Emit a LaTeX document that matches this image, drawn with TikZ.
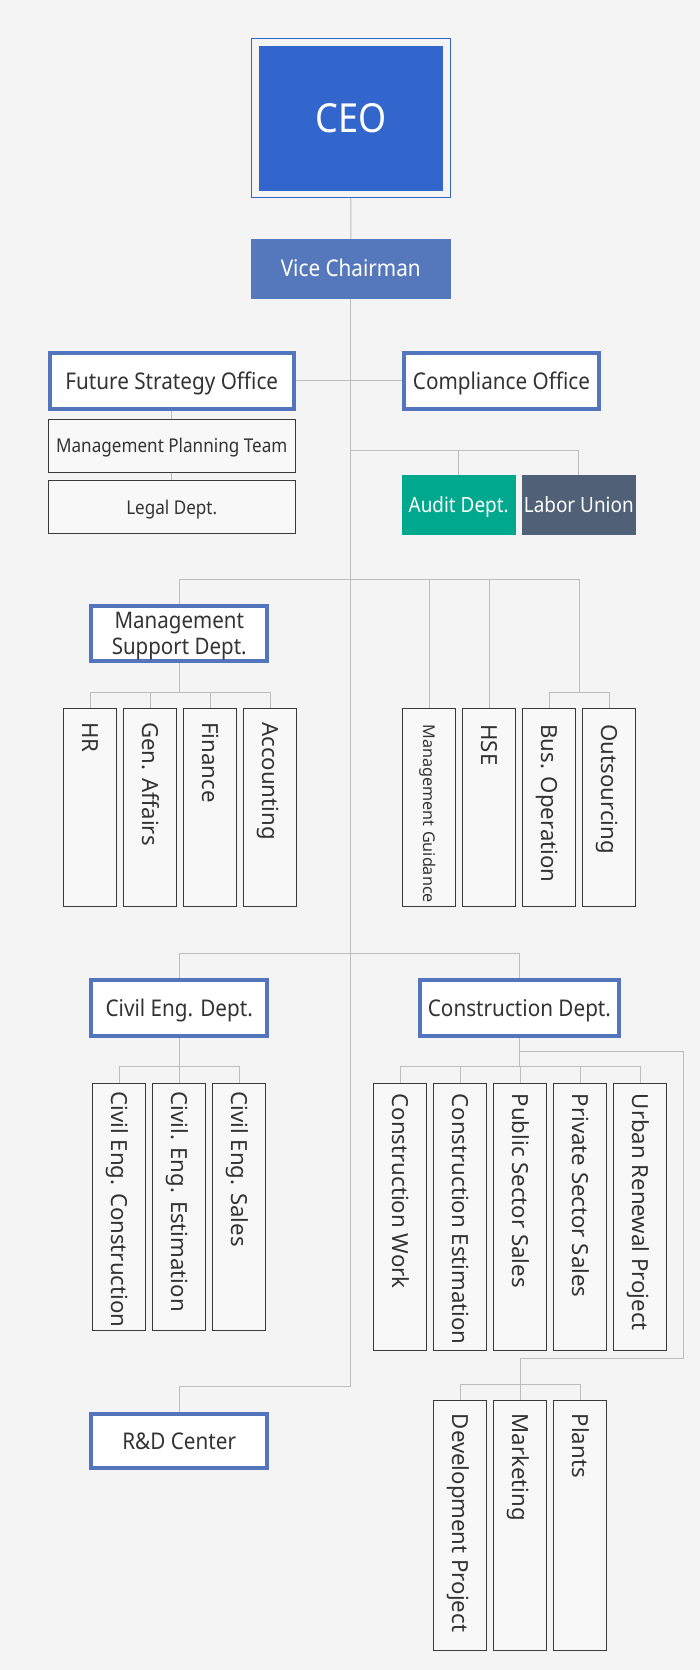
\documentclass[tikz,border=0pt]{standalone}
\usepackage{fontspec}
\setmainfont{Noto Sans}
\newfontfamily\hfont[FakeStretch=0.9]{Noto Sans}
\newfontfamily\vfont{Noto Sans}
\usetikzlibrary{backgrounds}
\definecolor{bgc}{HTML}{F4F4F4}
\definecolor{ceoblue}{HTML}{3366CC}
\definecolor{vcblue}{HTML}{5577BB}
\definecolor{hdrblue}{HTML}{5275BD}
\definecolor{auditc}{HTML}{00A88E}
\definecolor{laborc}{HTML}{4F6077}
\definecolor{linec}{HTML}{BDBDBD}
\definecolor{boxline}{HTML}{3A3A3A}
\definecolor{boxfill}{HTML}{F8F8F8}
\definecolor{txtc}{HTML}{333333}
\newcommand\fsz[1]{\fontsize{#1}{#1}\selectfont}
\begin{document}
\begin{tikzpicture}[x=1pt,y=-1pt,
  conn/.style={draw=linec,line width=1pt},
  hbox/.style={draw=hdrblue,line width=4pt,fill=white,inner sep=0pt,text=txtc,
    font=\hfont\fsz{23},text height=16.4pt,text depth=0pt},
  subbox/.style={draw=boxline,line width=1pt,fill=boxfill,inner sep=0pt,text=txtc,
    font=\hfont\fsz{19},text height=13.6pt,text depth=0pt},
  vbox/.style={draw=boxline,line width=1pt,fill=boxfill,inner sep=0pt,minimum width=53pt},
  vtxt/.style={rotate=-90,anchor=base west,inner sep=0pt,text=txtc,font=\vfont\fsz{22.2}},
  solid box/.style={inner sep=0pt,text=white,font=\hfont\fsz{21},text height=15pt,text depth=0pt}
]
\useasboundingbox (0,0) rectangle (700,1670);

% CEO
\node[draw=ceoblue,line width=1pt,minimum width=198.2pt,minimum height=159.2pt,inner sep=0pt] (ceoframe) at (350.9,118.1) {};
\node[fill=ceoblue,minimum width=184pt,minimum height=145pt,inner sep=0pt,text=white,
  font=\hfont\fsz{40},text height=28.6pt,text depth=0pt] (ceo) at (351,118.5) {CEO};
\node[fill=vcblue,minimum width=199.5pt,minimum height=59.7pt,inner sep=0pt,text=white,
  font=\hfont\fsz{23},text height=16.4pt,text depth=0pt] (vc) at (350.75,268.75) {Vice Chairman};

% offices
\node[hbox,minimum width=243.5pt,minimum height=55.7pt] (fso) at (171.75,380.85) {Future Strategy Office};
\node[hbox,minimum width=195.5pt,minimum height=55.7pt] (comp) at (501.5,380.85) {Compliance Office};
\node[subbox,minimum width=246.5pt,minimum height=53pt] (mpt) at (171.75,445.5) {Management Planning Team};
\node[subbox,minimum width=246.5pt,minimum height=52.9pt] (legal) at (171.75,507.35) {Legal Dept.};
\node[solid box,fill=auditc,minimum width=113.8pt,minimum height=59.5pt] (audit) at (458.7,504.75) {Audit Dept.};
\node[solid box,fill=laborc,minimum width=113.8pt,minimum height=59.5pt] (labor) at (578.8,504.75) {Labor Union};

% Management support
\node[hbox,minimum width=175.9pt,minimum height=55.3pt,font=\hfont\fontsize{22.8}{26}\selectfont,
  align=center,text height=42.3pt,text depth=0pt] (msd) at (179.25,633.65) {Management\\Support Dept.};

\foreach \nm/\cx/\txt in {hr/90.4/HR,ga/150.4/Gen. Affairs,fin/210.4/Finance,acc/270.4/Accounting}{
  \node[vbox,minimum height=198pt] (\nm) at (\cx,807.8) {};
  \node[vtxt] (\nm T) at (\cx-7.9,722) {\txt};
}
\node[vbox,minimum height=198pt] (mg) at (429.4,807.8) {};
\node[vtxt,font=\vfont\fsz{16.2}] (mgT) at (429.4-5.8,724.5) {Management Guidance};
\foreach \nm/\cx/\txt in {hse/489.4/HSE,bo/549.4/Bus. Operation,out/609.4/Outsourcing}{
  \node[vbox,minimum height=198pt] (\nm) at (\cx,807.8) {};
  \node[vtxt] (\nm T) at (\cx-7.9,724.3) {\txt};
}

% Civil / Construction
\node[hbox,minimum width=175.9pt,minimum height=55.4pt] (civ) at (179.25,1008) {Civil Eng. Dept.};
\node[hbox,minimum width=199.1pt,minimum height=55.4pt] (con) at (519.45,1008) {Construction Dept.};
\foreach \nm/\cx/\txt in {ce1/119.4/Civil Eng. Construction,ce2/179.4/Civil. Eng. Estimation,ce3/239.4/Civil Eng. Sales}{
  \node[vbox,minimum height=247.8pt] (\nm) at (\cx,1206.9) {};
  \node[vtxt] (\nm T) at (\cx-7.9,1091.3) {\txt};
}
\foreach \nm/\cx/\txt in {co1/400.4/Construction Work,co2/460.4/Construction Estimation,co3/520.4/Public Sector Sales,co4/580.4/Private Sector Sales,co5/640.4/Urban Renewal Project}{
  \node[vbox,minimum height=267.8pt] (\nm) at (\cx,1216.9) {};
  \node[vtxt] (\nm T) at (\cx-7.9,1093.6) {\txt};
}
\foreach \nm/\cx/\txt in {dv1/460.4/Development Project,dv2/520.4/Marketing,dv3/580.4/Plants}{
  \node[vbox,minimum height=250pt] (\nm) at (\cx,1525.8) {};
  \node[vtxt] (\nm T) at (\cx-7.9,1413.6) {\txt};
}

% R&D
\node[hbox,minimum width=175.9pt,minimum height=54.6pt] (rd) at (179.25,1441) {R\&D Center};

% junctions
\coordinate (jAud) at (350.75,450.4);
\coordinate (jMain) at (350.75,579.3);
\coordinate (jBO) at (579.4,692.3);
\coordinate (jMSD) at (179.25,692.3);
\coordinate (jCiv) at (350.75,953.3);
\coordinate (jCivS) at (179.25,1066.5);
\coordinate (jConS) at (519.45,1066.5);
\coordinate (jBr) at (519.45,1051.3);
\coordinate (brR) at (683.3,1051.3);
\coordinate (brB) at (683.3,1358.3);
\coordinate (jDev) at (520.4,1384.3);
\coordinate (trunkEnd) at (350.75,1386.3);

\begin{pgfonlayer}{background}
\fill[bgc] (0,0) rectangle (700,1670);
\draw[conn] (ceoframe.south) -- (vc.north);
\draw[conn] (vc.south) -- (trunkEnd) -| (rd.north);
\draw[conn] (fso.east) -- (comp.west);
\draw[conn] (fso.south) -- (mpt.north);
\draw[conn] (mpt.south) -- (legal.north);
\draw[conn] (jAud) -| (audit.north);
\draw[conn] (jAud) -| (labor.north);
\draw[conn] (jMain) -| (msd.north);
\draw[conn] (jMain) -| (mg.north);
\draw[conn] (jMain) -| (hse.north);
\draw[conn] (jMain) -| (jBO);
\draw[conn] (jBO) -| (bo.north);
\draw[conn] (jBO) -| (out.north);
\draw[conn] (msd.south) -- (jMSD);
\foreach \nm in {hr,ga,fin,acc}{\draw[conn] (jMSD) -| (\nm.north);}
\draw[conn] (jCiv) -| (civ.north);
\draw[conn] (jCiv) -| (con.north);
\draw[conn] (civ.south) -- (jCivS);
\foreach \nm in {ce1,ce2,ce3}{\draw[conn] (jCivS) -| (\nm.north);}
\draw[conn] (con.south) -- (jConS);
\foreach \nm in {co1,co2,co3,co4,co5}{\draw[conn] (jConS) -| (\nm.north);}
\draw[conn] (jBr) -- (brR) -- (brB) -| (jDev);
\foreach \nm in {dv1,dv2,dv3}{\draw[conn] (jDev) -| (\nm.north);}
\end{pgfonlayer}
\end{tikzpicture}
\end{document}
